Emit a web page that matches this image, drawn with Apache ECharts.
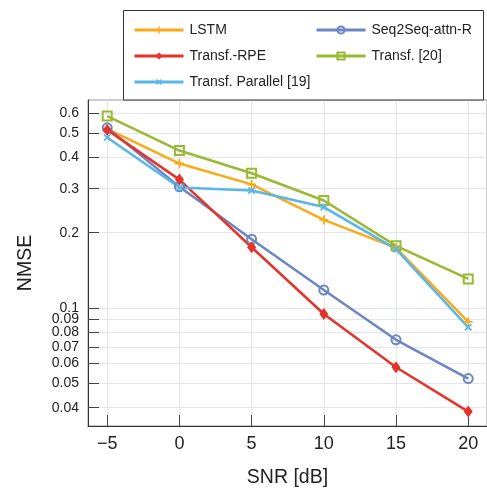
<!DOCTYPE html>
<html>
<head>
<meta charset="utf-8">
<script src="https://cdn.jsdelivr.net/npm/echarts@6/dist/echarts.min.js"></script>
<style>
  html, body { margin: 0; padding: 0; background: #fff; }
  #chart { width: 487px; height: 493px; }
</style>
</head>
<body>
<div id="chart"></div>
<script>
// SNR sweep (dB)
const snr = [-5, 0, 5, 10, 15, 20];

// NMSE per model
const lstm      = [0.52, 0.378, 0.312, 0.225, 0.174, 0.088];
const seq2seq   = [0.525, 0.305, 0.1885, 0.118, 0.0747, 0.0523];
const rpe       = [0.515, 0.326, 0.175, 0.0947, 0.058, 0.0386];
const transf20  = [0.585, 0.426, 0.3455, 0.269, 0.1773, 0.1308];
const parallel  = [0.48, 0.303, 0.295, 0.2532, 0.172, 0.0838];

// Axis tick values
const xTicks = [-5, 0, 5, 10, 15, 20];
const yTicks = [0.04, 0.05, 0.06, 0.07, 0.08, 0.09, 0.1, 0.2, 0.3, 0.4, 0.5, 0.6];

// The NMSE axis is logarithmic: plot log10 values on a linear axis
const lg = v => Math.log10(v);
const toPairs = ys => snr.map((x, i) => [x, lg(ys[i])]);

const FONT = '"Liberation Sans", Arial, Helvetica, sans-serif';
const TEXT = '#222';

const PLUS = 'path://M4,0H6V4H10V6H6V10H4V6H0V4H4Z';

const seriesDefs = [
  { name: 'LSTM', data: lstm, color: '#FBAA17', symbol: PLUS, size: 9, hollow: false },
  { name: 'Seq2Seq-attn-R', data: seq2seq, color: '#6C86C4', symbol: 'circle', size: 9, hollow: true },
  { name: 'Transf.-RPE', data: rpe, color: '#E5332A', symbol: 'diamond', size: [9, 12], hollow: false },
  { name: 'Transf. [20]', data: transf20, color: '#9AB933', symbol: 'rect', size: 9, hollow: true },
  { name: 'Transf. Parallel [19]', data: parallel, color: '#58B7E8', symbol: PLUS, size: 9, rotate: 45, hollow: false }
];

const series = seriesDefs.map(d => ({
  name: d.name,
  type: 'line',
  data: toPairs(d.data),
  color: d.color,
  symbol: d.symbol,
  symbolSize: d.size,
  symbolRotate: d.rotate || 0,
  showAllSymbol: true,
  lineStyle: { width: 2.5, color: d.color },
  itemStyle: d.hollow
    ? { color: 'rgba(255,255,255,0)', borderColor: d.color, borderWidth: 2 }
    : { color: d.color, borderWidth: 0 },
  emphasis: { disabled: true },
  animation: false
}));

// Legend: two columns, one legend component per entry
const legendPos = [
  { left: 133, top: 23 },
  { left: 315, top: 23 },
  { left: 133, top: 49 },
  { left: 315, top: 49 },
  { left: 133, top: 75 }
];
const legends = seriesDefs.map((d, i) => ({
  data: [d.name],
  left: legendPos[i].left,
  top: legendPos[i].top,
  padding: 0,
  itemWidth: 49,
  itemHeight: 9,
  itemGap: 0,
  selectedMode: false,
  lineStyle: { width: 3 },
  textStyle: { fontFamily: FONT, fontSize: 14, color: TEXT, padding: [0, 0, 0, 1] }
}));

const chart = echarts.init(document.getElementById('chart'), null, { renderer: 'canvas' });

chart.setOption({
  animation: false,
  backgroundColor: '#fff',
  graphic: [{
    type: 'rect',
    shape: { x: 123.5, y: 10.5, width: 360, height: 89.5 },
    style: { fill: '#fff', stroke: '#333', lineWidth: 1 },
    z: 1
  }],
  legend: legends,
  grid: {
    left: 88, right: 0, top: 100, bottom: 65,
    show: true, borderColor: '#999', borderWidth: 1
  },
  xAxis: {
    type: 'value',
    min: -6.33,
    max: 21.3,
    name: 'SNR [dB]',
    nameLocation: 'middle',
    nameGap: 42,
    nameTextStyle: { fontFamily: FONT, fontSize: 19.5, color: TEXT },
    axisLine: { show: true, onZero: false, lineStyle: { color: '#333', width: 1 } },
    axisTick: { show: true, inside: true, length: 11, customValues: xTicks, lineStyle: { color: '#444' } },
    axisLabel: {
      customValues: xTicks,
      margin: 9,
      fontFamily: FONT, fontSize: 18, color: TEXT,
      formatter: v => String(v).replace('-', '\u2212')
    },
    splitLine: { show: true, customValues: xTicks, lineStyle: { color: '#e2e6ec', width: 1 } }
  },
  yAxis: {
    type: 'value',
    min: lg(0.0338),
    max: lg(0.678),
    name: 'NMSE',
    nameLocation: 'middle',
    nameGap: 52,
    nameTextStyle: { fontFamily: FONT, fontSize: 19.5, color: TEXT },
    axisLine: { show: true, onZero: false, lineStyle: { color: '#333', width: 1 } },
    axisTick: { show: true, inside: true, length: 11, customValues: yTicks.map(lg), lineStyle: { color: '#444' } },
    axisLabel: {
      customValues: yTicks.map(lg),
      margin: 9,
      hideOverlap: false,
      fontFamily: FONT, fontSize: 14, color: TEXT,
      formatter: v => String(+Math.pow(10, v).toPrecision(2))
    },
    splitLine: { show: true, customValues: yTicks.map(lg), lineStyle: { color: '#e2e6ec', width: 1 } }
  },
  series: series
});
</script>
</body>
</html>
